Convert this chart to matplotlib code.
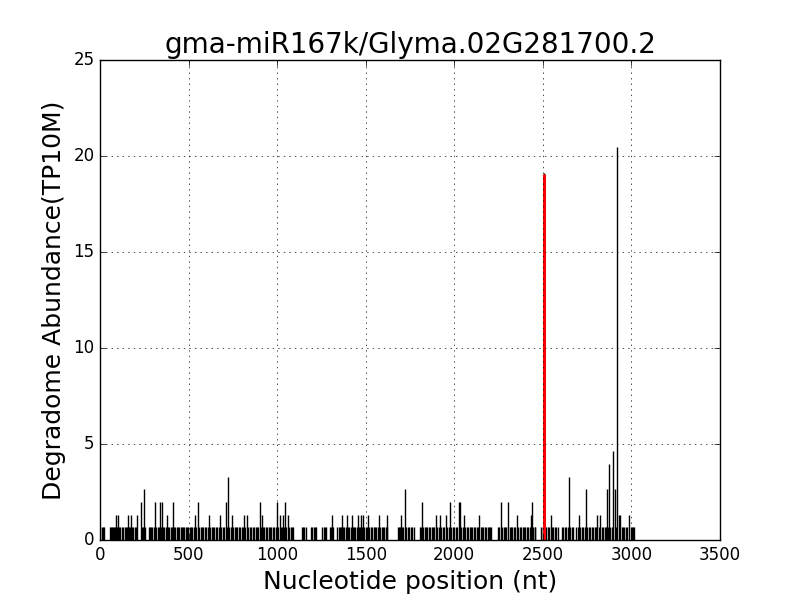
import matplotlib
matplotlib.use('Agg')
import matplotlib.pyplot as plt
import numpy as np

# Degradome read abundance, one unit = one read (TP10M normalised)
unit = 0.66

title = 'gma-miR167k/Glyma.02G281700.2'

# positions carrying a single read
low_pos = [2, 9, 16, 22,
           55, 61, 68, 74, 80, 87, 95, 108, 114, 122, 130, 139, 146, 152, 165, 170, 181, 188, 196, 203,
           236, 243, 256,
           274, 282, 289, 296, 303, 318, 326, 333, 344, 357, 364, 371, 385, 392, 399, 405, 419, 426,
           433, 440, 447, 455, 462, 470, 477, 485, 492, 499, 507, 514, 521, 529, 544, 560, 568, 576,
           584, 592, 600, 608, 622, 630, 638, 646, 654, 662, 670, 685, 693, 700, 716, 730, 737, 752,
           760, 768, 776, 784, 792, 800, 806, 820, 838, 846, 854, 862, 870, 878, 886, 893, 908, 920,
           928, 936, 944, 952, 960, 968, 976, 984, 992, 1006, 1022, 1028, 1040, 1050, 1068, 1076,
           1084, 1090,
           1138, 1146, 1154, 1162,
           1190, 1198, 1206, 1214, 1220,
           1256, 1264, 1272, 1278,
           1296, 1304, 1314,
           1340, 1348, 1356, 1362, 1372, 1380, 1388, 1400, 1408, 1415, 1428, 1435, 1442, 1450, 1463,
           1468, 1478, 1492, 1500, 1508, 1520, 1528, 1536, 1544, 1552, 1560, 1568, 1582, 1590, 1598,
           1606, 1614, 1622,
           1680, 1688, 1694, 1705, 1712, 1730, 1738, 1746, 1754, 1762, 1770,
           1808, 1814, 1824, 1832, 1840, 1848, 1856, 1864, 1872, 1880, 1888, 1904, 1912, 1926, 1934,
           1942, 1960, 1968, 1984, 1992, 2000, 2008, 2016, 2040, 2048, 2062, 2070, 2078, 2086, 2094,
           2102, 2110, 2118, 2126, 2134, 2148, 2156, 2164, 2172, 2180, 2188, 2196, 2204, 2210,
           2244, 2252, 2270, 2278, 2286, 2294, 2312, 2320, 2328, 2336, 2344, 2362, 2370, 2378, 2386,
           2394, 2402, 2410, 2418, 2426, 2446, 2454, 2458,
           2492, 2498, 2502, 2512, 2520, 2528, 2536, 2552, 2560, 2568, 2576, 2584, 2608, 2616, 2624,
           2632, 2640, 2656, 2664, 2672, 2688, 2696, 2712, 2720, 2728, 2736, 2752, 2760, 2768, 2776,
           2784, 2792, 2798, 2816, 2832, 2840, 2848, 2856, 2868, 2880, 2888, 2912, 2946, 2952, 2960,
           2968, 2976, 2998, 3004, 3010, 3016]

# positions with more than one read (position, read count)
high_pos = [90, 102, 158, 175, 209, 231, 250, 310, 339, 350, 378, 412, 536, 553, 615, 677, 711,
            723, 745, 813, 830, 903, 914, 999, 1016, 1033, 1044, 1061, 1310, 1366, 1394, 1421,
            1457, 1473, 1485, 1514, 1575, 1620, 1699, 1722, 1818, 1897, 1919, 1953, 1976, 2027,
            2032, 2055, 2140, 2262, 2303, 2354, 2434, 2439, 2544, 2648, 2704, 2744, 2805, 2823,
            2862, 2874, 2897, 2907, 2919, 2930, 2938, 2987]
high_reads = [2, 2, 2, 2, 2, 3, 4, 3, 3, 3, 2, 3, 2, 3, 2, 2, 3,
              5, 2, 2, 2, 3, 2, 3, 2, 2, 3, 2, 2, 2, 2, 2,
              2, 2, 2, 2, 2, 2, 2, 4, 3, 2, 2, 2, 3, 3,
              3, 2, 2, 3, 3, 2, 2, 3, 2, 5, 2, 4, 2, 2,
              4, 6, 7, 4, 31, 2, 2, 2]

# cleavage site
site_pos = 2505
site_reads = 29

plt.style.use('classic')
fig = plt.figure(figsize=(8, 6), dpi=100, facecolor='white')
ax = fig.add_subplot(111)

x = low_pos + high_pos + [site_pos]
y = [unit] * len(low_pos) + [r * unit for r in high_reads] + [site_reads * unit]
ax.vlines(x, 0, y, colors='k', linewidth=1.0)
ax.vlines([site_pos], 0, [site_reads * unit * 0.995], colors='r', linewidth=2.2)

ax.set_xlim(0, 3500)
ax.set_ylim(0, 25)
ax.set_xticks(np.arange(0, 3501, 500))
ax.set_yticks(np.arange(0, 26, 5))
ax.grid(True)
ax.set_title(title, fontsize=20)
ax.set_xlabel('Nucleotide position (nt)', fontsize=18)
ax.set_ylabel('Degradome Abundance(TP10M)', fontsize=18)
ax.tick_params(labelsize=12)

fig.subplots_adjust(left=0.125, right=0.9, bottom=0.1, top=0.9)
fig.savefig('out.png', dpi=100, facecolor='white')
